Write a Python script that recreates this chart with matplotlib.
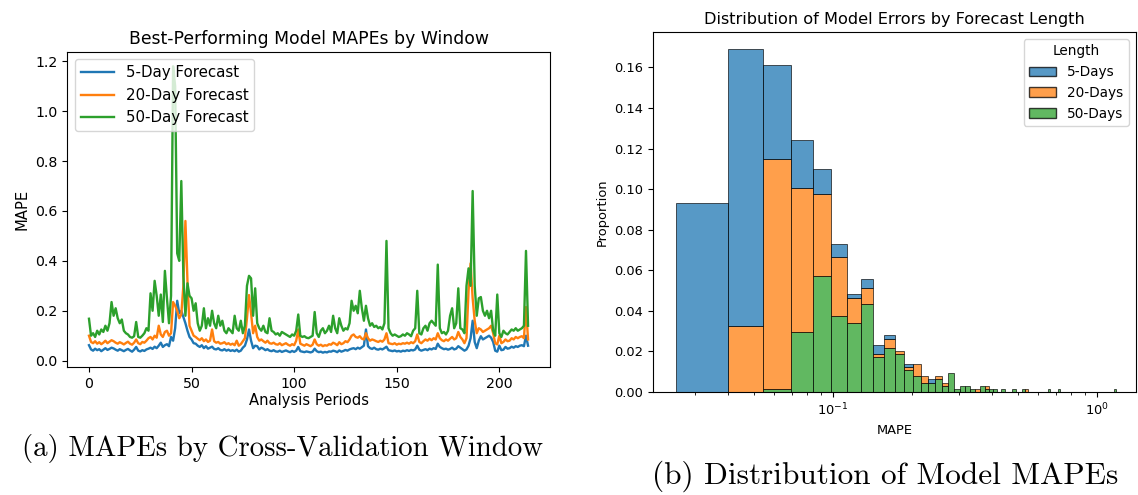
import numpy as np
import matplotlib
matplotlib.use("Agg")
import matplotlib.pyplot as plt
from matplotlib.patches import Patch

# ---------- data: MAPE per analysis period ----------
mape_5 = [
    0.062, 0.045, 0.040, 0.048, 0.042, 0.046, 0.038, 0.044, 0.050, 0.043,
    0.047, 0.052, 0.049, 0.044, 0.040, 0.046, 0.042, 0.038, 0.043, 0.047,
    0.041, 0.036, 0.044, 0.055, 0.040, 0.037, 0.042, 0.039, 0.045, 0.048,
    0.052, 0.047, 0.056, 0.050, 0.060, 0.072, 0.055, 0.062, 0.066, 0.058,
    0.095, 0.080, 0.130, 0.240, 0.190, 0.200, 0.175, 0.150, 0.120, 0.095,
    0.085, 0.070, 0.068, 0.060, 0.055, 0.062, 0.050, 0.058, 0.048, 0.052,
    0.056, 0.047, 0.045, 0.050, 0.043, 0.041, 0.046, 0.040, 0.044, 0.039,
    0.042, 0.038, 0.044, 0.036, 0.040, 0.052, 0.060, 0.085, 0.125, 0.080,
    0.050, 0.060, 0.058, 0.045, 0.052, 0.048, 0.042, 0.046, 0.040, 0.038,
    0.042, 0.037, 0.036, 0.040, 0.035, 0.038, 0.041, 0.037, 0.034, 0.039,
    0.035, 0.040, 0.055, 0.038, 0.036, 0.034, 0.037, 0.035, 0.033, 0.036,
    0.048, 0.038, 0.034, 0.036, 0.032, 0.035, 0.033, 0.037, 0.036, 0.040,
    0.038, 0.034, 0.041, 0.036, 0.039, 0.043, 0.040, 0.045, 0.048, 0.050,
    0.046, 0.052, 0.048, 0.054, 0.060, 0.125, 0.058, 0.050, 0.047, 0.052,
    0.046, 0.044, 0.048, 0.045, 0.050, 0.056, 0.042, 0.040, 0.038, 0.041,
    0.037, 0.039, 0.036, 0.040, 0.038, 0.042, 0.039, 0.043, 0.041, 0.045,
    0.060, 0.044, 0.040, 0.043, 0.046, 0.042, 0.048, 0.045, 0.050, 0.047,
    0.068, 0.055, 0.050, 0.046, 0.048, 0.044, 0.047, 0.052, 0.045, 0.048,
    0.058, 0.052, 0.046, 0.040, 0.045, 0.060, 0.090, 0.160, 0.075, 0.050,
    0.080, 0.098, 0.085, 0.090, 0.095, 0.100, 0.092, 0.075, 0.040, 0.036,
    0.060, 0.042, 0.044, 0.055, 0.048, 0.050, 0.056, 0.052, 0.058, 0.055,
    0.060, 0.062, 0.058, 0.100, 0.060,
]
mape_20 = [
    0.100, 0.075, 0.070, 0.078, 0.068, 0.074, 0.066, 0.072, 0.080, 0.070,
    0.076, 0.082, 0.078, 0.072, 0.068, 0.074, 0.070, 0.065, 0.071, 0.076,
    0.068, 0.064, 0.072, 0.085, 0.070, 0.066, 0.075, 0.072, 0.080, 0.090,
    0.095, 0.085, 0.100, 0.092, 0.140, 0.105, 0.095, 0.115, 0.120, 0.100,
    0.110, 0.235, 0.220, 0.200, 0.170, 0.185, 0.300, 0.560, 0.320, 0.140,
    0.120, 0.100, 0.095, 0.088, 0.082, 0.090, 0.078, 0.085, 0.075, 0.080,
    0.125, 0.078, 0.072, 0.075, 0.068, 0.070, 0.074, 0.066, 0.070, 0.064,
    0.068, 0.062, 0.080, 0.060, 0.066, 0.078, 0.090, 0.170, 0.263, 0.190,
    0.110, 0.140, 0.095, 0.080, 0.085, 0.078, 0.072, 0.080, 0.070, 0.068,
    0.072, 0.066, 0.064, 0.070, 0.062, 0.066, 0.070, 0.064, 0.060, 0.066,
    0.062, 0.080, 0.125, 0.068, 0.064, 0.060, 0.066, 0.062, 0.058, 0.064,
    0.085, 0.066, 0.060, 0.064, 0.058, 0.062, 0.060, 0.066, 0.064, 0.072,
    0.068, 0.062, 0.074, 0.066, 0.070, 0.078, 0.074, 0.085, 0.100, 0.105,
    0.095, 0.092, 0.098, 0.088, 0.085, 0.110, 0.090, 0.080, 0.085, 0.082,
    0.078, 0.075, 0.080, 0.076, 0.085, 0.110, 0.070, 0.068, 0.066, 0.070,
    0.064, 0.068, 0.066, 0.070, 0.068, 0.072, 0.068, 0.074, 0.070, 0.078,
    0.105, 0.075, 0.070, 0.078, 0.085, 0.080, 0.088, 0.082, 0.090, 0.085,
    0.110, 0.090, 0.082, 0.078, 0.085, 0.080, 0.088, 0.095, 0.085, 0.090,
    0.115, 0.095, 0.085, 0.070, 0.090, 0.280, 0.390, 0.250, 0.160, 0.110,
    0.130, 0.125, 0.115, 0.120, 0.125, 0.130, 0.140, 0.110, 0.070, 0.065,
    0.100, 0.070, 0.075, 0.085, 0.078, 0.080, 0.090, 0.085, 0.095, 0.090,
    0.095, 0.098, 0.090, 0.215, 0.085,
]
mape_50 = [
    0.168, 0.100, 0.110, 0.095, 0.120, 0.105, 0.125, 0.115, 0.140, 0.120,
    0.150, 0.235, 0.180, 0.210, 0.170, 0.150, 0.165, 0.120, 0.110, 0.105,
    0.095, 0.092, 0.098, 0.155, 0.095, 0.092, 0.100, 0.110, 0.130, 0.120,
    0.270, 0.200, 0.320, 0.260, 0.180, 0.265, 0.155, 0.360, 0.250, 0.150,
    0.260, 1.180, 1.100, 0.430, 0.400, 0.720, 0.340, 0.180, 0.310, 0.260,
    0.250, 0.200, 0.230, 0.150, 0.120, 0.140, 0.210, 0.130, 0.170, 0.140,
    0.200, 0.150, 0.130, 0.180, 0.140, 0.160, 0.120, 0.110, 0.130, 0.120,
    0.110, 0.180, 0.130, 0.120, 0.160, 0.110, 0.140, 0.300, 0.340, 0.330,
    0.180, 0.290, 0.150, 0.130, 0.120, 0.140, 0.115, 0.110, 0.170, 0.120,
    0.115, 0.105, 0.110, 0.100, 0.115, 0.110, 0.105, 0.100, 0.095, 0.105,
    0.100, 0.120, 0.185, 0.100, 0.095, 0.098, 0.092, 0.090, 0.095, 0.100,
    0.195, 0.110, 0.095, 0.120, 0.130, 0.110, 0.120, 0.140, 0.115, 0.180,
    0.130, 0.110, 0.170, 0.140, 0.120, 0.130, 0.125, 0.150, 0.240, 0.200,
    0.220, 0.190, 0.280, 0.210, 0.160, 0.220, 0.170, 0.140, 0.150, 0.135,
    0.140, 0.130, 0.135, 0.125, 0.150, 0.480, 0.130, 0.110, 0.100, 0.105,
    0.100, 0.095, 0.098, 0.105, 0.100, 0.110, 0.105, 0.098, 0.120, 0.130,
    0.280, 0.110, 0.105, 0.130, 0.140, 0.120, 0.150, 0.160, 0.150, 0.140,
    0.385, 0.130, 0.110, 0.115, 0.105, 0.120, 0.180, 0.210, 0.130, 0.150,
    0.290, 0.130, 0.125, 0.110, 0.300, 0.370, 0.300, 0.680, 0.300, 0.180,
    0.250, 0.255, 0.200, 0.180, 0.200, 0.170, 0.200, 0.120, 0.100, 0.265,
    0.110, 0.095, 0.120, 0.110, 0.105, 0.115, 0.125, 0.120, 0.130, 0.120,
    0.125, 0.130, 0.140, 0.440, 0.140,
]

# ---------- data: histogram counts per (linear) bin ----------
bin_start = 0.02535
bin_width = 0.01457
n_bins = 79
# {bin index: count}
counts_5 = {0: 60, 1: 88, 2: 30, 3: 15, 4: 8, 5: 4, 6: 1, 7: 3, 8: 3, 9: 1,
            11: 1, 14: 1}
counts_20 = {1: 21, 2: 73, 3: 46, 4: 26, 5: 19, 6: 8, 7: 5, 8: 1, 9: 3,
             10: 1, 11: 1, 12: 4, 13: 2, 15: 1, 16: 1, 22: 1, 24: 1, 35: 1}
counts_50 = {2: 1, 3: 19, 4: 37, 5: 24, 6: 22, 7: 28, 8: 11, 9: 14, 10: 12,
             11: 7, 12: 5, 13: 3, 14: 3, 15: 4, 16: 2, 17: 6, 18: 1, 19: 2,
             20: 2, 21: 1, 23: 2, 24: 1, 25: 1, 26: 1, 28: 1, 31: 1, 34: 1,
             43: 1, 47: 1, 78: 1}
hist_labels = ["5-Days", "20-Days", "50-Days"]

fig = plt.figure(figsize=(11.38, 4.95), dpi=100)

# ---------- left: lines ----------
ax1 = fig.add_axes([0.0589, 0.2586, 0.4244, 0.6364])
periods = np.arange(len(mape_5))
ax1.plot(periods, mape_5, label="5-Day Forecast", lw=1.7)
ax1.plot(periods, mape_20, label="20-Day Forecast", lw=1.7)
ax1.plot(periods, mape_50, label="50-Day Forecast", lw=1.7)
ax1.set_title("Best-Performing Model MAPEs by Window", fontsize=12.4)
ax1.set_xlabel("Analysis Periods", fontsize=10.6, labelpad=2)
ax1.set_ylabel("MAPE", fontsize=10.6)
ax1.tick_params(labelsize=10.2)
ax1.legend(loc="upper left", fontsize=10.8, handlelength=2.2)

# ---------- right: stacked histogram ----------
ax2 = fig.add_axes([0.5738, 0.2081, 0.4244, 0.7273])
edges = bin_start + bin_width * np.arange(n_bins + 1)
total = sum(counts_5.values()) + sum(counts_20.values()) + sum(counts_50.values())
colors = ["tab:blue", "tab:orange", "tab:green"]
heights = []
for counts in [counts_5, counts_20, counts_50]:
    h = np.zeros(n_bins)
    for k, c in counts.items():
        h[k] = c / total
    heights.append(h)

# green at the bottom, then orange, blue on top
bottom = np.zeros(n_bins)
for h, col in zip(heights[::-1], colors[::-1]):
    mask = h > 0
    ax2.bar(edges[:-1][mask], h[mask], width=bin_width, align="edge",
            bottom=bottom[mask], color=col, alpha=0.75, edgecolor="black",
            linewidth=0.6)
    bottom = bottom + h
ax2.set_xscale("log")
ax2.set_xlim(0.0208, 1.405)
ax2.set_ylim(0, bottom.max() * 1.05)
ax2.set_title("Distribution of Model Errors by Forecast Length", fontsize=11.6)
ax2.set_xlabel("MAPE", fontsize=9.4)
ax2.set_ylabel("Proportion", fontsize=9.4)
ax2.tick_params(labelsize=9.4)
handles = [Patch(facecolor=c, edgecolor="black", alpha=0.75) for c in colors]
ax2.legend(handles, hist_labels, title="Length", loc="upper right",
           fontsize=9.8, title_fontsize=9.8)

# ---------- captions ----------
fig.text(0.248, 0.093, "(a) MAPEs by Cross-Validation Window",
         family="cmr10", fontsize=20.8, ha="center", va="center")
fig.text(0.7777, 0.038, "(b) Distribution of Model MAPEs",
         family="cmr10", fontsize=22.5, ha="center", va="center")

fig.savefig("out.png", dpi=100)
